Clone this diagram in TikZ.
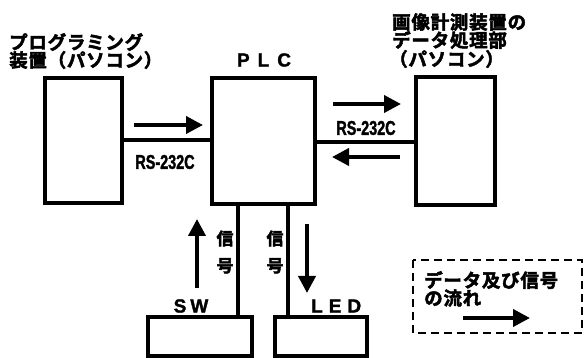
\documentclass[tikz,border=0pt]{standalone}
\usepackage{fontspec}
\setmainfont{Liberation Sans}
\newfontfamily\jp[FakeBold=2.5,LetterSpace=4]{Noto Sans CJK JP Bold}
\newfontfamily\jps[FakeBold=2.5]{Noto Sans CJK JP Bold}
\newfontfamily\lat[FakeStretch=0.72,FakeBold=1.5]{Liberation Sans Bold}
\newfontfamily\lb[FakeBold=1.5]{Liberation Sans Bold}
\usetikzlibrary{arrows.meta}
\begin{document}
\begin{tikzpicture}[x=1pt,y=-1pt,
  box/.style={draw,line width=3.8pt},
  wire/.style={line width=3.8pt},
  flow/.style={line width=3.8pt,-{Triangle[length=17pt,width=17pt]}},
  jt/.style={font=\jp\fontsize{18.5}{18.5}\selectfont,inner sep=0pt,align=left},
  lt/.style={font=\lb\fontsize{19}{19}\selectfont,inner sep=0pt},
  rs/.style={font=\lat\fontsize{20}{20}\selectfont,inner sep=0pt},
  sig/.style={font=\jps\fontsize{17}{27}\selectfont,inner sep=0pt,align=center}]
\useasboundingbox (0,0) rectangle (584,358);
% boxes
\draw[box] (45,78) rectangle (122,203);
\coordinate (progR) at (122,140);
\draw[box] (212,78) rectangle (315,204);
\coordinate (plcL) at (212,140);
\coordinate (plcR) at (315,142);
\coordinate (plcB1) at (238,204);
\coordinate (plcB2) at (288,204);
\draw[box] (416,77) rectangle (495,205);
\coordinate (imgL) at (416,142);
\draw[box] (148,317) -- (148,356) -- (252,356) -- (252,317) -- cycle;
\coordinate (swT) at (238,317);
\draw[box] (275,317) -- (275,356) -- (367,356) -- (367,317) -- cycle;
\coordinate (ledT) at (288,317);
% wires
\draw[wire] (progR) -- (plcL);
\draw[wire] (plcR) -- (imgL);
\draw[wire] (plcB1) -- (swT);
\draw[wire] (plcB2) -- (ledT);
% flow arrows
\coordinate (a1s) at (134,125); \coordinate (a1e) at (203,125);
\draw[flow] (a1s) -- (a1e);
\coordinate (a2s) at (333,104); \coordinate (a2e) at (401,104);
\draw[flow] (a2s) -- (a2e);
\coordinate (a3s) at (400,157); \coordinate (a3e) at (332,157);
\draw[flow] (a3s) -- (a3e);
\coordinate (a4s) at (197,288); \coordinate (a4e) at (197,219);
\draw[flow] (a4s) -- (a4e);
\coordinate (a5s) at (307,224); \coordinate (a5e) at (307,293);
\draw[flow] (a5s) -- (a5e);
% labels
\node[rs] (rs1) at (165,162) {RS-232C};
\node[rs] (rs2) at (366,128) {RS-232C};
\node[jt,anchor=west] (t1) at (9,42) {プログラミング};
\node[jt,anchor=west] (t2) at (9,60) {装置（パソコン）};
\node[lt] (plc) at (264,60) {P\hspace{8pt}L\hspace{8pt}C};
\node[jt,anchor=west] (r1) at (392,22) {画像計測装置の};
\node[jt,anchor=west] (r2) at (392,40) {データ処理部};
\node[jt,anchor=west] (r3) at (389,59) {（パソコン）};
\node[lt] (sw) at (191,306) {S\hspace{4pt}W};
\node[lt,anchor=west] (led) at (311,306) {L\hspace{6pt}E\hspace{6pt}D};
\node[sig] (sig1) at (225,252) {信\\号};
\node[sig] (sig2) at (275,252) {信\\号};
% legend
\draw[line width=2.2pt,dash pattern=on 8pt off 5pt] (413,260) rectangle (582,333);
\node[jt,anchor=west] (l1) at (424,280) {データ及び信号};
\node[jt,anchor=west] (l2) at (424,298) {の流れ};
\coordinate (lgs) at (463,318); \coordinate (lge) at (530,318);
\draw[flow] (lgs) -- (lge);
\end{tikzpicture}
\end{document}
